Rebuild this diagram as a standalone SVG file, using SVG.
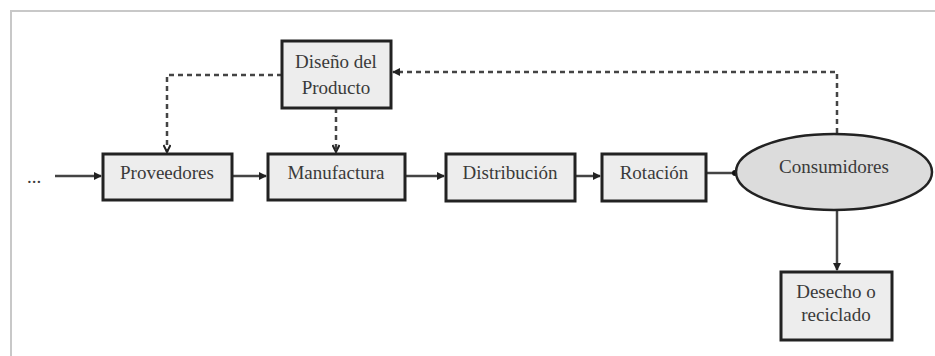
<svg xmlns="http://www.w3.org/2000/svg" width="935" height="356" viewBox="0 0 935 356">
<defs>
<style>
.box{fill:#ededed;stroke:#222;stroke-width:3}
.ell{fill:#dcdcdc;stroke:#222;stroke-width:2.5}
.t{font-family:'Liberation Serif','Times New Roman','DejaVu Serif',serif;font-size:19px;fill:#3a3a3a;text-anchor:middle}
.ln{fill:none;stroke:#444;stroke-width:2.5}
.dash{fill:none;stroke:#444;stroke-width:2.5;stroke-dasharray:5 4}
.frame{fill:none;stroke:#c8c8c8;stroke-width:2}
</style>
<marker id="ah" markerWidth="8" markerHeight="8" refX="7" refY="4" orient="auto" markerUnits="userSpaceOnUse">
<path d="M0,0 L8,4 L0,8 z" fill="#222"/>
</marker>
<marker id="dh" markerWidth="10" markerHeight="8" refX="8" refY="4" orient="auto" markerUnits="userSpaceOnUse">
<path d="M1,0.5 L8,4 L1,7.5" fill="none" stroke="#222" stroke-width="2"/>
</marker>
<marker id="dot" markerWidth="6" markerHeight="6" refX="3" refY="3" orient="auto" markerUnits="userSpaceOnUse">
<circle cx="3" cy="3" r="3" fill="#111"/>
</marker>
</defs>
<rect width="935" height="356" fill="#fff"/>
<path class="frame" d="M11,356 V11 H935"/>
<g id="connectors">
<text class="t" x="34" y="183" font-family="Liberation Serif, serif">...</text>
<line class="ln" x1="55" y1="176" x2="101" y2="176" marker-end="url(#ah)"/>
<line class="ln" x1="232" y1="176" x2="266" y2="176" marker-end="url(#ah)"/>
<line class="ln" x1="405" y1="176" x2="444" y2="176" marker-end="url(#ah)"/>
<line class="ln" x1="575" y1="176" x2="600" y2="176" marker-end="url(#ah)"/>
<line class="ln" x1="706" y1="173" x2="735" y2="173" marker-end="url(#dot)"/>
<line class="ln" x1="837" y1="210" x2="837" y2="270" marker-end="url(#ah)"/>
<path class="dash" d="M282,75 H167 V152" marker-end="url(#dh)"/>
<path class="dash" d="M336,108 V152" marker-end="url(#dh)"/>
<path class="dash" d="M837,133 V72 H393" marker-end="url(#ah)"/>
</g>
<g id="diseno">
<rect class="box" x="282" y="41" width="109" height="67"/>
<text class="t" x="336" y="68">Diseño del</text>
<text class="t" x="336" y="94">Producto</text>
</g>
<g id="proveedores">
<rect class="box" x="103" y="154" width="129" height="46"/>
<text class="t" x="167" y="179">Proveedores</text>
</g>
<g id="manufactura">
<rect class="box" x="268" y="154" width="137" height="46"/>
<text class="t" x="336" y="179">Manufactura</text>
</g>
<g id="distribucion">
<rect class="box" x="446" y="154" width="129" height="47"/>
<text class="t" x="510" y="179">Distribución</text>
</g>
<g id="rotacion">
<rect class="box" x="602" y="154" width="104" height="47"/>
<text class="t" x="654" y="179">Rotación</text>
</g>
<g id="consumidores">
<ellipse class="ell" cx="834" cy="172" rx="98" ry="38"/>
<text class="t" x="834" y="173">Consumidores</text>
</g>
<g id="desecho">
<rect class="box" x="781" y="272" width="111" height="68"/>
<text class="t" x="836" y="298">Desecho o</text>
<text class="t" x="836" y="321">reciclado</text>
</g>
</svg>
